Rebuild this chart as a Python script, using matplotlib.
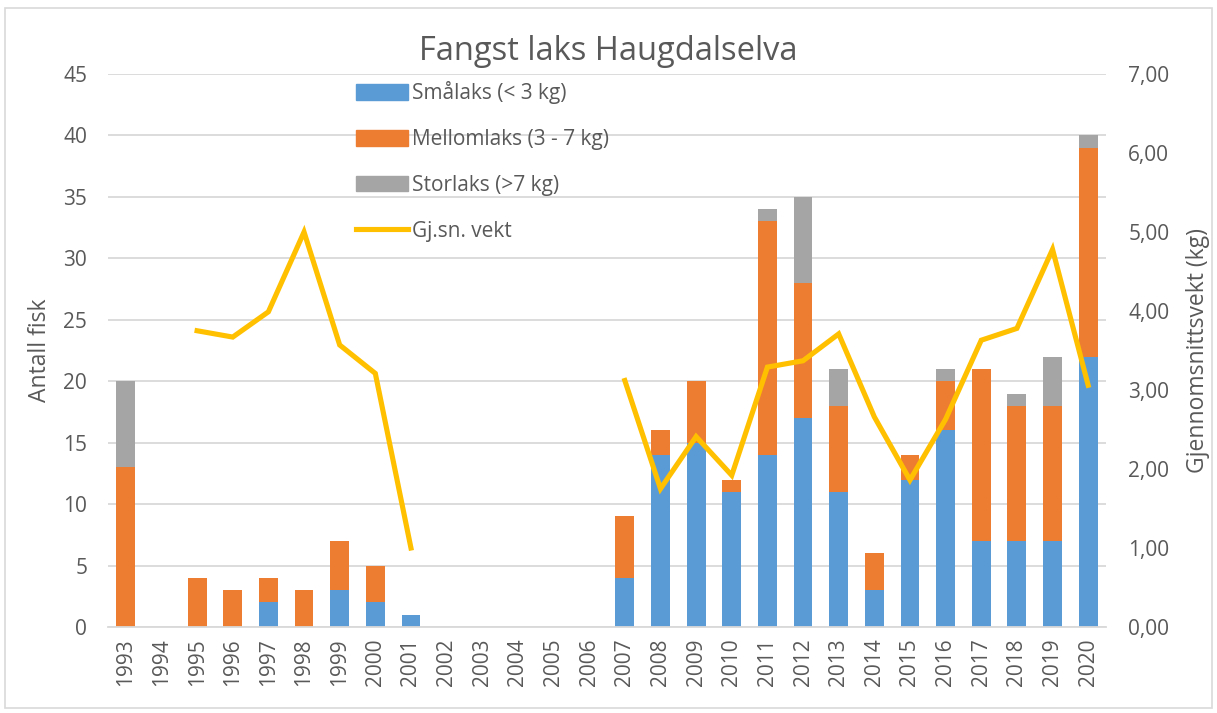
import matplotlib.pyplot as plt
import numpy as np
from matplotlib.patches import Patch, Rectangle
from matplotlib.lines import Line2D
from matplotlib.ticker import FuncFormatter

plt.rcParams['font.family'] = ['Open Sans', 'DejaVu Sans']

years = [str(y) for y in range(1993, 2021)]
smalaks = [0, 0, 0, 0, 2, 0, 3, 2, 1, 0, 0, 0, 0, 0,
           4, 14, 15, 11, 14, 17, 11, 3, 12, 16, 7, 7, 7, 22]
mellomlaks = [13, 0, 4, 3, 2, 3, 4, 3, 0, 0, 0, 0, 0, 0,
              5, 2, 5, 1, 19, 11, 7, 3, 2, 4, 14, 11, 11, 17]
storlaks = [7, 0, 0, 0, 0, 0, 0, 0, 0, 0, 0, 0, 0, 0,
            0, 0, 0, 0, 1, 7, 3, 0, 0, 1, 0, 1, 4, 1]
snittvekt = [np.nan, np.nan, 3.75, 3.67, 3.99, 5.00, 3.57, 3.21, 1.00,
             np.nan, np.nan, np.nan, np.nan, np.nan,
             3.12, 1.75, 2.41, 1.92, 3.29, 3.37, 3.71, 2.66, 1.86, 2.63,
             3.63, 3.78, 4.78, 3.06]

c_blue = '#5B9BD5'
c_orange = '#ED7D31'
c_gray = '#A5A5A5'
c_gold = '#FFC000'
txt = '#595959'

fig = plt.figure(figsize=(12.17, 7.13), dpi=100)
ax = fig.add_axes([108/1217, 1 - 627/713, (1106-108)/1217, (627-74)/713])
ax2 = ax.twinx()

x = np.arange(len(years))
s = np.array(smalaks)
m = np.array(mellomlaks)
st = np.array(storlaks)
w = 0.53
ax.bar(x, s, w, color=c_blue, zorder=2)
ax.bar(x, m, w, bottom=s, color=c_orange, zorder=2)
ax.bar(x, st, w, bottom=s + m, color=c_gray, zorder=2)

ax2.plot(x, snittvekt, color=c_gold, lw=3.7, solid_joinstyle='miter', zorder=3)

ax.set_xlim(-0.5, len(years) - 0.5)
ax.set_ylim(0, 45)
ax.set_yticks(range(0, 46, 5))
ax2.set_ylim(0, 7)
ax2.set_yticks(range(0, 8))
ax2.yaxis.set_major_formatter(FuncFormatter(lambda v, p: f"{v:.2f}".replace('.', ',')))

ax.set_xticks(x)
ax.set_xticklabels(years, rotation=90)
ax.grid(axis='y', color='#D9D9D9', lw=1.3, zorder=0)
ax.set_axisbelow(True)

for a in (ax, ax2):
    for sp in a.spines.values():
        sp.set_visible(False)
    a.tick_params(length=0, colors=txt, labelsize=15)
ax.spines['bottom'].set_visible(True)
ax.spines['bottom'].set_color('#D9D9D9')
ax.spines['bottom'].set_linewidth(1.3)
ax.tick_params(axis='y', pad=15)
ax.tick_params(axis='x', pad=8)
ax2.tick_params(axis='y', pad=16)

ax.set_ylabel('Antall fisk', color=txt, fontsize=16.5, labelpad=8)
ax2.set_ylabel('Gjennomsnittsvekt (kg)', color=txt, fontsize=16.5, labelpad=12)

fig.text(0.5, 1 - 52/713, 'Fangst laks Haugdalselva', ha='center', va='center',
         fontsize=23.5, color=txt)

handles = [Patch(color=c_blue), Patch(color=c_orange), Patch(color=c_gray),
           Line2D([0], [0], color=c_gold, lw=3.7)]
labels = ['Smålaks (< 3 kg)', 'Mellomlaks (3 - 7 kg)', 'Storlaks (>7 kg)', 'Gj.sn. vekt']
leg = ax2.legend(handles, labels, loc='upper left',
                 bbox_to_anchor=(348/1217, 1 - 73/713), bbox_transform=fig.transFigure,
                 frameon=False, fontsize=15, labelspacing=1.19, handlelength=2.5,
                 handleheight=0.77, handletextpad=0.15, borderaxespad=0)
for t in leg.get_texts():
    t.set_color(txt)

fig.patches.append(Rectangle((5/1217, 5/713), 1207/1217, 700/713, transform=fig.transFigure,
                             fill=False, edgecolor='#D9D9D9', lw=1.2))

fig.savefig('out.png', dpi=100, facecolor='white')
